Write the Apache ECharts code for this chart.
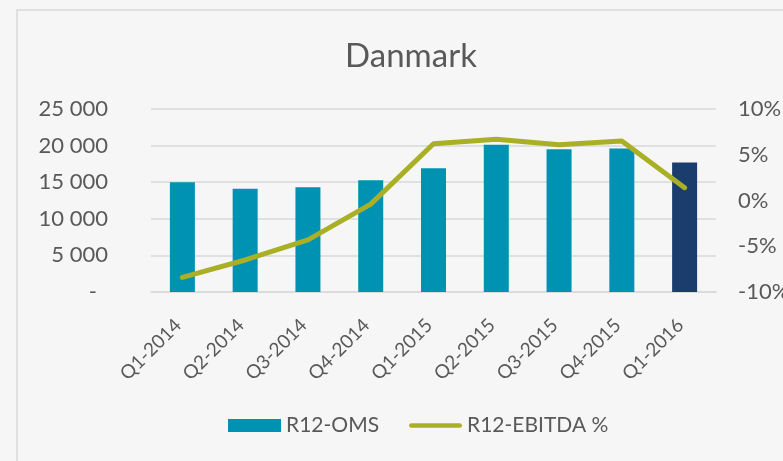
<!DOCTYPE html>
<html>
<head>
<meta charset="utf-8">
<script src="https://cdn.jsdelivr.net/npm/echarts@6/dist/echarts.min.js"></script>
<style>
html,body{margin:0;padding:0;background:#F6F6F7;}
#chart{width:783px;height:461px;}
</style>
</head>
<body>
<div id="chart"></div>
<script>
const categories = ['Q1-2014','Q2-2014','Q3-2014','Q4-2014','Q1-2015','Q2-2015','Q3-2015','Q4-2015','Q1-2016'];
const omsValues = [15000, 14100, 14300, 15250, 16900, 20100, 19500, 19600, 17700];
const ebitdaValues = [-8.4, -6.5, -4.3, -0.4, 6.2, 6.7, 6.1, 6.5, 1.4];
const highlightIndex = 8;

const TEXT = '#595959';
const FONT = 'Lato';
const BAR = '#0092B3';
const BAR_DARK = '#1B3D6E';
const LINE = '#A9B026';
const GRID = '#D9D9D9';

const chart = echarts.init(document.getElementById('chart'), null, {renderer: 'canvas'});

function fmtThousands(v) {
  if (v === 0) return '{d|-}';
  return String(v).replace(/\B(?=(\d{3})+(?!\d))/g, ' ');
}

chart.setOption({
  backgroundColor: '#F6F6F7',
  animation: false,
  title: {
    text: 'Danmark',
    left: 411,
    top: 40,
    padding: 0,
    textAlign: 'center',
    textStyle: {fontFamily: FONT, fontSize: 33, fontWeight: 'normal', color: TEXT}
  },
  graphic: [{
    type: 'rect',
    z: -10,
    shape: {x: 17, y: 10, width: 800, height: 500},
    style: {fill: 'none', stroke: '#D9D9D9', lineWidth: 1.5}
  }],
  grid: {left: 151, right: 67, top: 109, bottom: 169, containLabel: false, outerBoundsMode: 'none'},
  legend: {
    left: 228,
    top: 415,
    padding: 0,
    itemGap: 30,
    itemWidth: 53,
    itemHeight: 13,
    textStyle: {fontFamily: FONT, fontSize: 21, color: TEXT},
    data: [
      {name: 'R12-OMS', icon: 'rect'},
      {name: 'R12-EBITDA %', icon: 'path://M2.5,0L53.5,0A2.5,2.5,0,0,1,53.5,5L2.5,5A2.5,2.5,0,0,1,2.5,0Z', itemStyle: {color: LINE}}
    ]
  },
  xAxis: {
    type: 'category',
    data: categories,
    axisTick: {show: false},
    axisLine: {show: true, lineStyle: {color: GRID, width: 1.5}},
    axisLabel: {rotate: 45, margin: 26, padding: [0, 6, 0, 0], fontFamily: FONT, fontSize: 19, color: TEXT, interval: 0}
  },
  yAxis: [{
    type: 'value',
    min: 0, max: 25000, interval: 5000,
    axisLine: {show: false},
    axisTick: {show: false},
    splitLine: {lineStyle: {color: GRID, width: 1.5}},
    axisLabel: {
      margin: 43,
      fontFamily: FONT, fontSize: 22, color: TEXT,
      formatter: fmtThousands,
      rich: {d: {fontFamily: FONT, fontSize: 22, color: TEXT, padding: [0, 11, 0, 0]}}
    }
  }, {
    type: 'value',
    min: -10, max: 10, interval: 5,
    axisLine: {show: false},
    axisTick: {show: false},
    splitLine: {show: false},
    axisLabel: {margin: 22, fontFamily: FONT, fontSize: 22, color: TEXT, formatter: v => v + '%'}
  }],
  series: [{
    name: 'R12-OMS',
    type: 'bar',
    barWidth: 25,
    itemStyle: {color: BAR},
    data: omsValues.map((v, i) => i === highlightIndex ? {value: v, itemStyle: {color: BAR_DARK}} : v)
  }, {
    name: 'R12-EBITDA %',
    type: 'line',
    yAxisIndex: 1,
    symbol: 'none',
    lineStyle: {color: LINE, width: 5, cap: 'round', join: 'round'},
    itemStyle: {color: LINE},
    data: ebitdaValues
  }]
});
</script>
</body>
</html>
